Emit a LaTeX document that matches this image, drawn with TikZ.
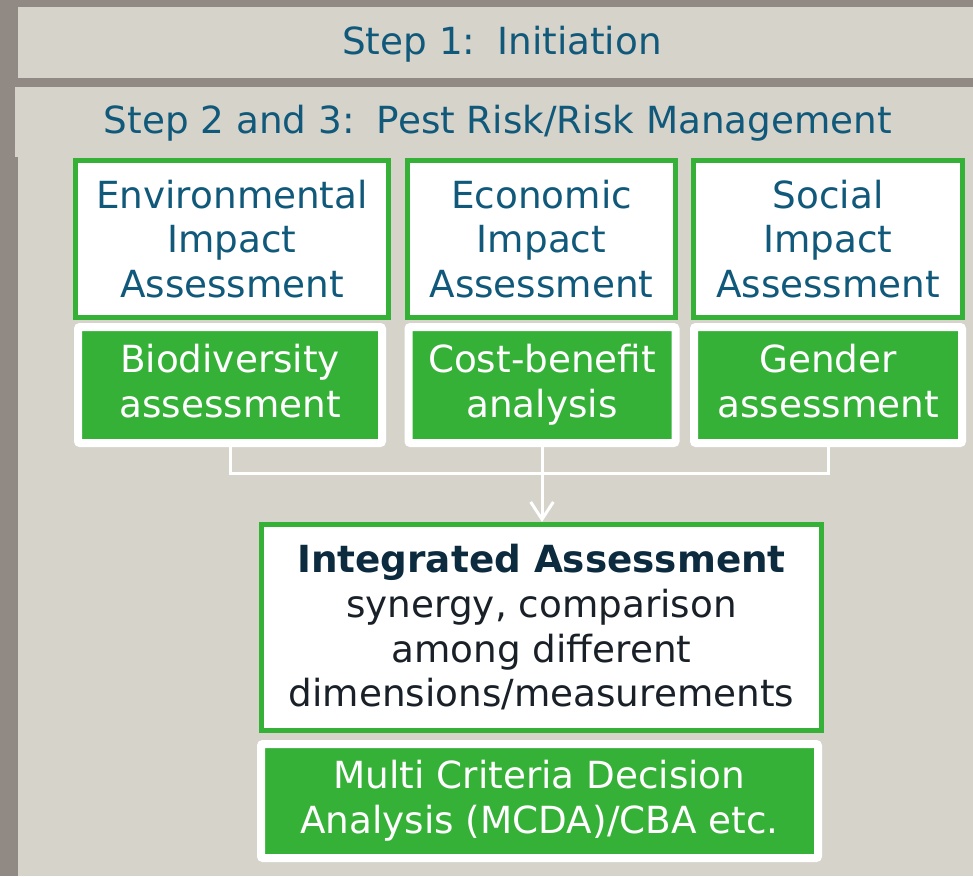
\documentclass[tikz,border=0pt]{standalone}
\usepackage{fontspec}
\setmainfont{DejaVu Sans}
\usetikzlibrary{shadows,arrows.meta}
\definecolor{pbg}{RGB}{145,137,131}
\definecolor{ppanel}{RGB}{214,211,203}
\definecolor{pgreen}{RGB}{54,177,56}
\definecolor{pteal}{RGB}{17,89,122}
\definecolor{pnavy}{RGB}{13,43,62}
\definecolor{pdark}{RGB}{25,32,40}
\tikzset{
  bigfont/.style={font=\fontsize{28}{33.5}\selectfont},
  header/.style={bigfont,text=pteal,inner sep=0pt},
  wbox/.style={draw=pgreen,fill=white,line width=3.75pt,inner sep=0pt,align=center,text=pteal,bigfont},
  gbox/.style={fill=pgreen,draw=white,line width=6pt,rounded corners=1.5pt,inner sep=0pt,align=center,text=white,bigfont,
    drop shadow={shadow xshift=1pt,shadow yshift=-2pt,opacity=0.35,fill=black}},
  conn/.style={draw=white,line width=2.25pt},
}
\begin{document}
\begin{tikzpicture}[x=0.75pt,y=-0.75pt]
\fill[pbg] (0,0) rectangle (973,876);
\useasboundingbox (0,0) rectangle (973,876);
\fill[ppanel] (18,7) rectangle (973,78);
\fill[ppanel] (15,87) rectangle (973,157);
\fill[ppanel] (18,156) rectangle (973,876);
\node[header] (s1) at (502,44) {Step 1:\, Initiation};
\node[header] (s2) at (498,123) {Step 2 and 3:\, Pest Risk/Risk Management};
% top assessment boxes
\node[wbox,minimum width=234.75pt,minimum height=117.75pt] (env) at (232,239) {Environmental\\Impact\\Assessment};
\node[wbox,minimum width=201pt,minimum height=117.75pt] (econ) at (541.5,239) {Economic\\Impact\\Assessment};
\node[wbox,minimum width=201.75pt,minimum height=117.75pt] (soc) at (828,239) {Social\\Impact\\Assessment};
% green method boxes
\node[gbox,minimum width=228pt,minimum height=87pt] (bio) at (230,385) {Biodiversity\\assessment\vphantom{y}};
\node[gbox,minimum width=200.25pt,minimum height=87pt] (cost) at (542,385) {Cost-benefit\\analysis};
\node[gbox,minimum width=201pt,minimum height=87pt] (gender) at (828,385) {Gender\\assessment\vphantom{y}};
% integrated
\node[wbox,minimum width=420pt,minimum height=154.5pt,text=pdark] (integ) at (541.5,627.5)
  {{\bfseries\color{pnavy}Integrated Assessment}\\synergy, comparison\\among different\\dimensions/measurements};
\node[gbox,minimum width=417.75pt,minimum height=85.5pt] (mcda) at (539.5,801) {Multi Criteria Decision\\Analysis (MCDA)/CBA etc.};
% connectors
\coordinate (hj) at (542,473);
\draw[conn] (bio.south) |- (hj) -| (gender.south);
\draw[conn,-{Straight Barb[length=13pt,width=17pt,line width=2.25pt]}] (cost.south) -- (cost.south |- integ.north);
\end{tikzpicture}
\end{document}
